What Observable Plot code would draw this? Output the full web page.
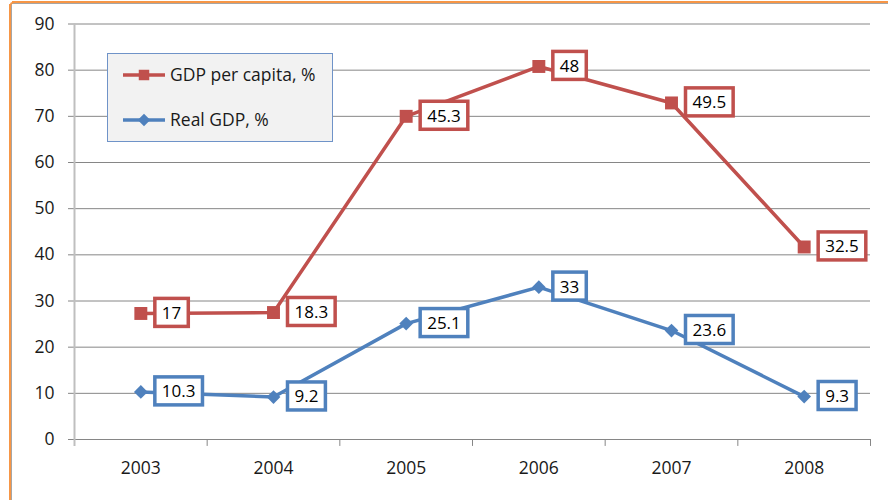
<!DOCTYPE html>
<html>
<head>
<meta charset="utf-8">
<script src="https://cdn.jsdelivr.net/npm/d3@7"></script>
<script src="https://cdn.jsdelivr.net/npm/@observablehq/plot@0.6"></script>
<style>
  html, body { margin: 0; padding: 0; background: #fff; overflow: hidden; }
  #wrap { position: relative; width: 888px; height: 500px; overflow: hidden; font-family: "Open Sans", sans-serif; }
  #frameTop { position: absolute; left: 12px; top: 1px; width: 876px; height: 0; border-top: 2px solid #f79646; box-shadow: 0 1px 0 #a6a6a6; }
  #frameLeft { position: absolute; left: 9px; top: 4px; width: 0; height: 496px; border-left: 2px solid #f79646; box-shadow: 1px 0 0 #a6a6a6; }
  #frameCorner { position: absolute; left: 9px; top: 1px; width: 8px; height: 8px; border-left: 2px solid #f79646; border-top: 2px solid #f79646; border-top-left-radius: 6px; background: transparent; }
  #legend { position: absolute; left: 107px; top: 53px; width: 224px; height: 87px; background: #f2f2f2; border: 1px solid #6f93c8; }
  #chart svg { display: block; }
</style>
</head>
<body>
<div id="wrap">
  <div id="chart"></div>
  <div id="legend"></div>
  <div id="frameTop"></div>
  <div id="frameLeft"></div>
  <div id="frameCorner"></div>
</div>
<script>
// ---- data ----
const years = [2003, 2004, 2005, 2006, 2007, 2008];
const gdpPerCapitaPlotted = [27.3, 27.5, 70.0, 80.8, 72.9, 41.7];
const gdpPerCapitaLabels = ["17", "18.3", "45.3", "48", "49.5", "32.5"];
const realGdp = [10.3, 9.2, 25.1, 33, 23.6, 9.3];
const realGdpLabels = ["10.3", "9.2", "25.1", "33", "23.6", "9.3"];
const yTicks = [0, 10, 20, 30, 40, 50, 60, 70, 80, 90];
const seriesNames = ["GDP per capita, %", "Real GDP, %"];

const RED = "#c0504d", BLUE = "#4f81bd", GRID = "#868686";

const red = years.map((yr, i) => ({year: yr, value: gdpPerCapitaPlotted[i], label: gdpPerCapitaLabels[i]}));
const blue = years.map((yr, i) => ({year: yr, value: realGdp[i], label: realGdpLabels[i]}));
const bounds = [years[0] - 0.5, ...years.map(y => y + 0.5)];
const xDomain = [years[0] - 0.5, years[years.length - 1] + 0.5];

const chart = Plot.plot({
  width: 888,
  height: 500,
  marginLeft: 74,
  marginRight: 18,
  marginTop: 23.5,
  marginBottom: 61,
  x: {type: "linear", domain: xDomain, label: null},
  y: {domain: [0, 90], label: null},
  style: {fontFamily: "'Open Sans', sans-serif", fontSize: "17.5px", color: "#1a1a1a", background: "transparent"},
  marks: [
    Plot.ruleY(yTicks, {stroke: GRID, strokeWidth: 1, insetLeft: -6}),
    Plot.ruleX(bounds.slice(1), {y1: 0, y2: -1.5, stroke: GRID, strokeWidth: 1}),
    Plot.ruleX([xDomain[0]], {y1: -1.5, y2: 90, stroke: "#bfbfbf", strokeWidth: 2}),
    Plot.axisY({ticks: yTicks, tickSize: 0, tickPadding: 20, fill: "#1a1a1a", label: null}),
    Plot.axisX({ticks: years, tickSize: 0, tickPadding: 22, tickFormat: d => String(d), fill: "#1a1a1a", label: null}),
    Plot.line(red, {x: "year", y: "value", stroke: RED, strokeWidth: 3.5, curve: "linear"}),
    Plot.line(blue, {x: "year", y: "value", stroke: BLUE, strokeWidth: 3.5, curve: "linear"}),
    Plot.dot(red, {x: "year", y: "value", symbol: "square", r: 7.3, fill: RED, stroke: "none"}),
    Plot.dot(blue, {x: "year", y: "value", symbol: "diamond2", r: 6.2, fill: BLUE, stroke: "none"}),
    Plot.text(red, {x: "year", y: "value", text: "label", dx: 21, textAnchor: "start", fill: "#000", fontSize: 17, className: "lbl-red"}),
    Plot.text(blue, {x: "year", y: "value", text: "label", dx: 21, textAnchor: "start", fill: "#000", fontSize: 17, className: "lbl-blue"})
  ]
});

document.getElementById("chart").appendChild(chart);

// draw boxes behind data labels
function boxLabels(cls, color) {
  chart.querySelectorAll("g." + cls + " text").forEach(t => {
    const b = t.getBBox();
    const r = document.createElementNS("http://www.w3.org/2000/svg", "rect");
    const cy = b.y + b.height / 2;
    r.setAttribute("x", b.x - 7);
    r.setAttribute("y", cy - 14);
    r.setAttribute("width", b.width + 14);
    r.setAttribute("height", 28);
    r.setAttribute("fill", "#fff");
    r.setAttribute("stroke", color);
    r.setAttribute("stroke-width", 3.5);
    const tr = t.getAttribute("transform");
    if (tr) r.setAttribute("transform", tr);
    t.parentNode.insertBefore(r, t);
  });
}
boxLabels("lbl-red", RED);
boxLabels("lbl-blue", BLUE);

// legend
const lg = d3.select("#legend").append("svg").attr("width", 224).attr("height", 87)
  .style("display", "block");
const entries = [
  {name: seriesNames[0], color: RED, sym: d3.symbolSquare, size: 110, y: 21},
  {name: seriesNames[1], color: BLUE, sym: d3.symbolDiamond2, size: 100, y: 66}
];
entries.forEach(e => {
  const g = lg.append("g").attr("transform", `translate(0,${e.y})`);
  g.append("line").attr("x1", 15).attr("x2", 57).attr("stroke", e.color).attr("stroke-width", 3.5);
  g.append("path").attr("d", d3.symbol(e.sym, e.size)()).attr("transform", "translate(36,0)").attr("fill", e.color);
  g.append("text").attr("x", 62).attr("dy", "0.35em").attr("font-size", 17.5)
    .attr("font-family", "'Open Sans', sans-serif").attr("fill", "#1a1a1a").text(e.name);
});
</script>
</body>
</html>
